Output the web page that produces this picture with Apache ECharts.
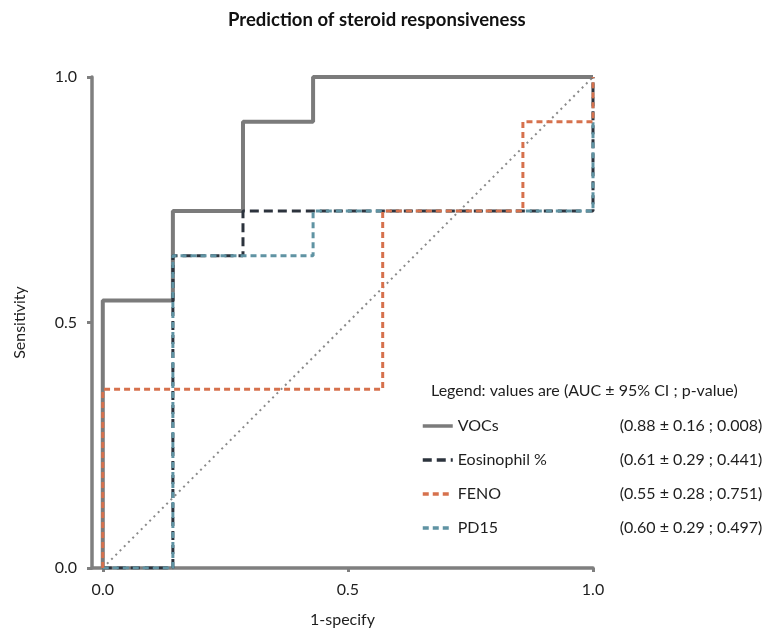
<!DOCTYPE html>
<html>
<head>
<meta charset="utf-8">
<script src="https://cdn.jsdelivr.net/npm/echarts@6/dist/echarts.min.js"></script>
<style>
  html, body { margin: 0; padding: 0; background: #fff; }
  #main { width: 767px; height: 628px; }
</style>
</head>
<body>
<div id="main"></div>
<script>
// ROC steps (x = 1-specificity, y = sensitivity)
var vocsX = [0, 0, 0.143, 0.143, 0.286, 0.286, 0.429, 0.429, 1];
var vocsY = [0, 0.545, 0.545, 0.727, 0.727, 0.909, 0.909, 1, 1];

var eosX = [0, 0.143, 0.143, 0.286, 0.286, 1, 1];
var eosY = [0, 0, 0.636, 0.636, 0.727, 0.727, 1];

var fenoX = [0, 0, 0.571, 0.571, 0.857, 0.857, 1, 1];
var fenoY = [0, 0.364, 0.364, 0.727, 0.727, 0.909, 0.909, 1];

var pd15X = [0, 0.143, 0.143, 0.429, 0.429, 1, 1];
var pd15Y = [0, 0, 0.636, 0.636, 0.727, 0.727, 1];

var diagX = [0, 1];
var diagY = [0, 1];

var seriesNames = ['VOCs', 'Eosinophil %', 'FENO', 'PD15'];
var aucText = ['(0.88 ± 0.16 ; 0.008)', '(0.61 ± 0.29 ; 0.441)', '(0.55 ± 0.28 ; 0.751)', '(0.60 ± 0.29 ; 0.497)'];
var tickValues = [0, 0.5, 1];

var FONT = 'Lato';

function pairs(xs, ys) {
    var out = [];
    for (var i = 0; i < xs.length; i++) {
        out.push([xs[i], ys[i]]);
    }
    return out;
}

function rocLine(name, xs, ys, color, type, width, z) {
    return {
        name: name,
        type: 'line',
        data: pairs(xs, ys),
        symbol: 'none',
        z: z,
        lineStyle: { color: color, width: width, type: type },
        itemStyle: { color: color },
        silent: true
    };
}

var chart = echarts.init(document.getElementById('main'), null, { renderer: 'canvas' });

var option = {
    backgroundColor: '#ffffff',
    animation: false,
    title: [{
        text: 'Prediction of steroid responsiveness',
        left: 223,
        top: 6,
        textStyle: { fontFamily: FONT, fontSize: 18.5, fontWeight: 'bold', color: '#111' }
    }, {
        text: 'Legend: values are (AUC ± 95% CI ; p-value)',
        left: 426,
        top: 378,
        textStyle: { fontFamily: FONT, fontSize: 16, fontWeight: 'normal', color: '#1e1e1e' }
    }],
    legend: {
        data: seriesNames,
        orient: 'vertical',
        left: 416,
        top: 413,
        itemWidth: 30,
        itemHeight: 14,
        itemGap: 18,
        selectedMode: false,
        itemStyle: { opacity: 0 },
        lineStyle: { width: 3.5 },
        formatter: function (name) {
            var idx = seriesNames.indexOf(name);
            return '{n|' + name + '}{v|' + aucText[idx] + '}';
        },
        textStyle: {
            fontFamily: FONT, fontSize: 16, color: '#1e1e1e',
            rich: {
                n: { fontFamily: FONT, fontSize: 16, color: '#1e1e1e', width: 162 },
                v: { fontFamily: FONT, fontSize: 16, color: '#1e1e1e' }
            }
        }
    },
    grid: { left: 92, right: 174, top: 77, bottom: 60, outerBoundsMode: 'none' },
    xAxis: {
        type: 'value',
        min: -0.022,
        max: 1,
        name: '1-specify',
        nameLocation: 'middle',
        nameGap: 44,
        nameTextStyle: { fontFamily: FONT, fontSize: 16, color: '#1e1e1e' },
        splitLine: { show: false },
        axisLine: { show: true, lineStyle: { color: '#7f7f7f', width: 3.5 } },
        axisTick: { show: true, customValues: tickValues, length: 4, lineStyle: { color: '#7f7f7f', width: 3 } },
        axisLabel: {
            customValues: tickValues, margin: 14,
            fontFamily: FONT, fontSize: 16, color: '#1e1e1e',
            formatter: function (v) { return v.toFixed(1); }
        }
    },
    yAxis: {
        type: 'value',
        min: 0,
        max: 1,
        name: 'Sensitivity',
        nameLocation: 'middle',
        nameGap: 64,
        nameTextStyle: { fontFamily: FONT, fontSize: 16, color: '#1e1e1e' },
        splitLine: { show: false },
        axisLine: { show: true, onZero: false, lineStyle: { color: '#7f7f7f', width: 3.5 } },
        axisTick: { show: true, customValues: tickValues, length: 5, lineStyle: { color: '#7f7f7f', width: 3 } },
        axisLabel: {
            customValues: tickValues, margin: 15,
            fontFamily: FONT, fontSize: 16, color: '#1e1e1e',
            formatter: function (v) { return v.toFixed(1); }
        }
    },
    series: [
        {
            name: 'diag',
            type: 'line',
            data: pairs(diagX, diagY),
            symbol: 'none',
            z: 1,
            lineStyle: { color: '#8a8a8a', width: 2, type: [2, 4] },
            silent: true
        },
        rocLine('VOCs', vocsX, vocsY, '#7b7b7b', 'solid', 4, 2),
        rocLine('Eosinophil %', eosX, eosY, '#2c333d', [9, 5], 3, 3),
        rocLine('PD15', pd15X, pd15Y, '#5f93a3', [6, 4], 3, 4),
        rocLine('FENO', fenoX, fenoY, '#d6714d', [6, 4], 3, 5)
    ]
};

chart.setOption(option);
</script>
</body>
</html>
